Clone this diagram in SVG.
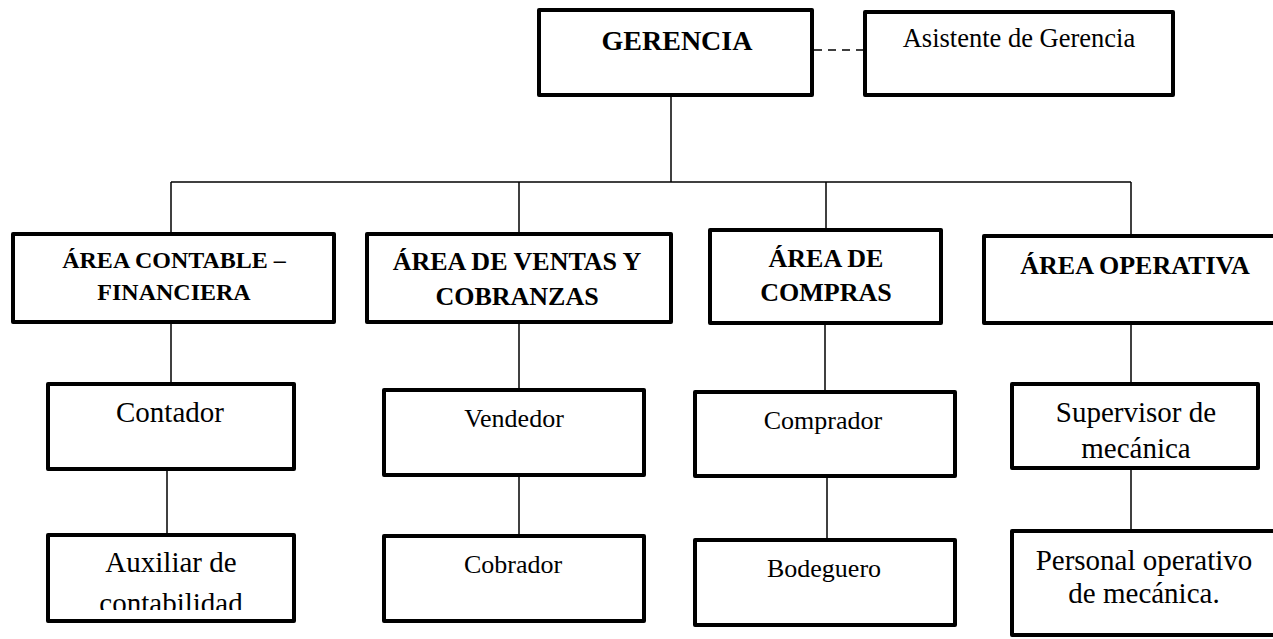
<svg xmlns="http://www.w3.org/2000/svg" width="1273" height="639" viewBox="0 0 1273 639">
<style>
  .box { fill: #ffffff; stroke: #000000; stroke-width: 4; stroke-linejoin: round; }
  .ln { fill: none; stroke: #000000; stroke-width: 1.5; }
  .dash { fill: none; stroke: #000000; stroke-width: 1.5; stroke-dasharray: 8 6; }
  text { font-family: "Liberation Serif", "Times New Roman", serif; fill: #000000; text-anchor: middle; }
  .b { font-weight: bold; }
</style>
<defs>
  <clipPath id="clipAux"><rect x="40" y="530" width="260" height="80"/></clipPath>
</defs>
<rect x="0" y="0" width="1273" height="639" fill="#ffffff"/>
<g id="connectors">
  <line class="ln" x1="671" y1="97" x2="671" y2="182"/>
  <line class="ln" x1="171" y1="182" x2="1131" y2="182"/>
  <line class="ln" x1="171" y1="182" x2="171" y2="232"/>
  <line class="ln" x1="519" y1="182" x2="519" y2="232"/>
  <line class="ln" x1="826" y1="182" x2="826" y2="228"/>
  <line class="ln" x1="1131" y1="182" x2="1131" y2="234"/>
  <line class="ln" x1="171" y1="324" x2="171" y2="382"/>
  <line class="ln" x1="167" y1="471" x2="167" y2="533"/>
  <line class="ln" x1="519" y1="324" x2="519" y2="388"/>
  <line class="ln" x1="519" y1="477" x2="519" y2="534"/>
  <line class="ln" x1="825" y1="325" x2="825" y2="390"/>
  <line class="ln" x1="827" y1="478" x2="827" y2="538"/>
  <line class="ln" x1="1131" y1="325" x2="1131" y2="382"/>
  <line class="ln" x1="1131" y1="470" x2="1131" y2="529"/>
  <line class="dash" x1="814" y1="50" x2="863" y2="50"/>
</g>
<g id="gerencia">
  <rect class="box" x="539" y="10" width="273" height="85"/>
  <text class="b" x="677" y="50" font-size="28">GERENCIA</text>
</g>
<g id="asistente">
  <rect class="box" x="865" y="12" width="308" height="83"/>
  <text x="1019" y="47" font-size="26.5">Asistente de Gerencia</text>
</g>
<g id="area-contable">
  <rect class="box" x="13" y="234" width="321" height="88"/>
  <text class="b" x="174" y="268" font-size="24">ÁREA CONTABLE –</text>
  <text class="b" x="174" y="300" font-size="24">FINANCIERA</text>
</g>
<g id="area-ventas">
  <rect class="box" x="367" y="234" width="304" height="88"/>
  <text class="b" x="517" y="270" font-size="26">ÁREA DE VENTAS Y</text>
  <text class="b" x="517" y="305" font-size="26">COBRANZAS</text>
</g>
<g id="area-compras">
  <rect class="box" x="710" y="230" width="231" height="93"/>
  <text class="b" x="826" y="267" font-size="26">ÁREA DE</text>
  <text class="b" x="826" y="301" font-size="26">COMPRAS</text>
</g>
<g id="area-operativa">
  <rect class="box" x="984" y="236" width="310" height="87"/>
  <text class="b" x="1135" y="274" font-size="26">ÁREA OPERATIVA</text>
</g>
<g id="contador">
  <rect class="box" x="48" y="384" width="246" height="85"/>
  <text x="170" y="422" font-size="29">Contador</text>
</g>
<g id="auxiliar">
  <rect class="box" x="48" y="535" width="246" height="86"/>
  <text x="171" y="572" font-size="29">Auxiliar de</text>
  <text x="171" y="613" font-size="29" clip-path="url(#clipAux)">contabilidad</text>
</g>
<g id="vendedor">
  <rect class="box" x="384" y="390" width="260" height="85"/>
  <text x="514" y="427" font-size="26">Vendedor</text>
</g>
<g id="cobrador">
  <rect class="box" x="384" y="536" width="260" height="85"/>
  <text x="513" y="573" font-size="26">Cobrador</text>
</g>
<g id="comprador">
  <rect class="box" x="695" y="392" width="260" height="84"/>
  <text x="823" y="429" font-size="26">Comprador</text>
</g>
<g id="bodeguero">
  <rect class="box" x="695" y="540" width="260" height="85"/>
  <text x="824" y="577" font-size="26">Bodeguero</text>
</g>
<g id="supervisor">
  <rect class="box" x="1012" y="384" width="246" height="84"/>
  <text x="1136" y="422" font-size="29">Supervisor de</text>
  <text x="1136" y="458" font-size="29">mecánica</text>
</g>
<g id="personal">
  <rect class="box" x="1012" y="531" width="270" height="104"/>
  <text x="1144" y="570" font-size="29">Personal operativo</text>
  <text x="1144" y="603" font-size="29">de mecánica.</text>
</g>
</svg>
